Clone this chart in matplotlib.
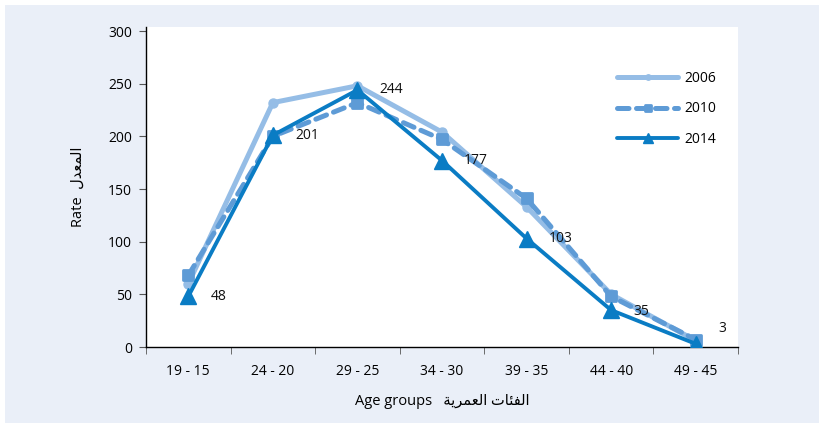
import matplotlib
matplotlib.use("Agg")
import matplotlib.pyplot as plt
from matplotlib.patches import Rectangle
from matplotlib.markers import MarkerStyle

plt.rcParams['font.family'] = ['Open Sans', 'DejaVu Sans']

age_groups = ["19 - 15", "24 - 20", "29 - 25", "34 - 30", "39 - 35", "44 - 40", "49 - 45"]
rate_2006 = [60, 232, 248, 204, 133, 50, 6]
rate_2010 = [68, 200, 232, 197, 141, 48, 7]
rate_2014 = [48, 201, 244, 177, 103, 35, 3]

# arabic written in visual order with presentation forms (no shaping in mpl)
ar_rate = "\uFEDD\uFEAA\uFECC\uFEE4\uFEDF\uFE8D"
ar_groups = ("\uFE94\uFEF3\uFEAE\uFEE4\uFECC\uFEDF\uFE8D" + " " +
             "\uFE95\uFE8E\uFE8C\uFED4\uFEDF\uFE8D")

c06 = "#95bde6"
c10 = "#5e9bd6"
c14 = "#0a7cc4"

W, H = 819, 423
fig = plt.figure(figsize=(W / 100, H / 100), dpi=100, facecolor="white")
fig.patches.append(Rectangle((5 / W, 0), 1, 1 - 5 / H, transform=fig.transFigure,
                             facecolor="#eaeff8", edgecolor="none", zorder=-10))

ax = fig.add_axes([146 / W, (H - 347) / H, (738 - 146) / W, (347 - 27) / H])
ax.set_facecolor("white")

x = list(range(len(age_groups)))
sq = MarkerStyle("s", joinstyle="round")
ax.plot(x, rate_2006, color=c06, lw=3.6, marker="o", ms=6.5, solid_capstyle="round",
        solid_joinstyle="round", label="2006", zorder=3)
ax.plot(x, rate_2010, color=c10, lw=3.6, marker=sq, ms=6.5, mew=2, linestyle=(0, (2.3, 1.5)),
        dash_capstyle="round", label="2010", zorder=4)
ax.plot(x, rate_2014, color=c14, lw=2.8, marker="^", ms=12, solid_capstyle="round",
        label="2014", zorder=5)

label_dy = [0, 0, 0, 0, 0, -1, 11]
for i, v in enumerate(rate_2014):
    ax.annotate(str(v), (x[i], v), xytext=(16, label_dy[i]), textcoords="offset points",
                ha="left", va="center", fontsize=10, color="#111111", zorder=6)

ax.set_xlim(-0.5, len(age_groups) - 0.5)
ax.set_ylim(0, 303.8)
ax.set_yticks(range(0, 301, 50))
ax.set_xticks(x)
ax.set_xticklabels(age_groups)
ax.set_xticks([i - 0.5 for i in range(len(age_groups) + 1)], minor=True)
ax.tick_params(axis="x", which="major", length=0, pad=12, labelsize=10)
ax.tick_params(axis="x", which="minor", length=5, color="#555555")
ax.tick_params(axis="y", length=5, color="#555555", pad=5, labelsize=10)

for s in ["top", "right"]:
    ax.spines[s].set_visible(False)
for s in ["left", "bottom"]:
    ax.spines[s].set_color("black")
    ax.spines[s].set_linewidth(1)

ax.set_ylabel("Rate  " + ar_rate, fontsize=10.5, labelpad=16)
ax.set_xlabel("Age groups   " + ar_groups, fontsize=10.5, labelpad=11)

ax.legend(loc="upper left", bbox_to_anchor=(0.796, 0.862), frameon=False,
          borderpad=0, borderaxespad=0, handlelength=4.4, handletextpad=0.4,
          labelspacing=1.1, fontsize=10, markerscale=0.6)

fig.savefig("out.png", dpi=100, facecolor=fig.get_facecolor())
